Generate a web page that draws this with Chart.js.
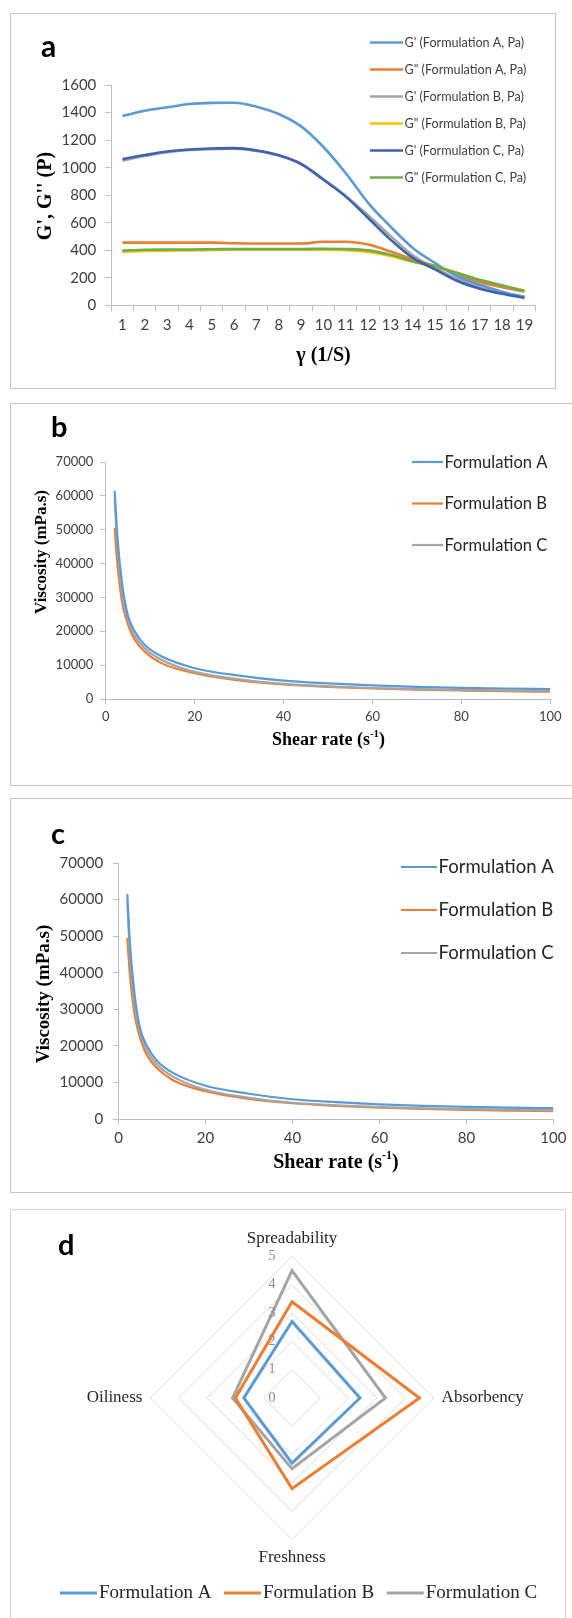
<!DOCTYPE html>
<html><head><meta charset="utf-8">
<script src="https://cdn.jsdelivr.net/npm/chart.js@4.4.1/dist/chart.umd.min.js"></script>
<style>
html,body{margin:0;padding:0;background:#fff;width:572px;height:1618px;overflow:hidden;position:relative;}
.frame{position:absolute;box-sizing:border-box;border:1.5px solid #c4c4c4;}
canvas{position:absolute;left:0;}
</style></head><body>
<div class="frame" style="left:10px;top:13px;width:546px;height:376px;"></div>
<div class="frame" style="left:10px;top:403px;width:600px;height:383px;"></div>
<div class="frame" style="left:10px;top:798px;width:600px;height:395px;"></div>
<div class="frame" style="left:10px;top:1209px;width:556px;height:440px;border-color:#d6d6d6"></div>
<canvas id="cA" width="572" height="375" style="top:13px;width:572px;height:375px"></canvas>
<canvas id="cB" width="572" height="382" style="top:403px;width:572px;height:382px"></canvas>
<canvas id="cC" width="572" height="394" style="top:798px;width:572px;height:394px"></canvas>
<canvas id="cD" width="572" height="409" style="top:1209px;width:572px;height:409px"></canvas>
<script>
// ---------- Panel a data ----------
const strainSteps = ['1','2','3','4','5','6','7','8','9','10','11','12','13','14','15','16','17','18','19'];
const gPrimeA  = [1375, 1413, 1438, 1462, 1470, 1471, 1443, 1390, 1300, 1150, 960, 745, 573, 418, 308, 212, 150, 100, 58];
const gDoubleA = [456, 456, 456, 456, 456, 452, 450, 450, 450, 463, 463, 442, 392, 334, 288, 225, 170, 133, 101];
const gPrimeB  = [1052, 1085, 1112, 1128, 1135, 1138, 1122, 1088, 1025, 918, 795, 655, 505, 365, 272, 192, 132, 95, 65];
const gDoubleB = [390, 395, 398, 400, 403, 405, 405, 405, 405, 405, 402, 388, 360, 318, 282, 235, 180, 140, 110];
const gPrimeC  = [1062, 1092, 1118, 1132, 1139, 1142, 1125, 1090, 1028, 912, 790, 635, 478, 345, 262, 178, 122, 85, 55];
const gDoubleC = [398, 405, 406, 406, 408, 410, 410, 410, 410, 412, 410, 400, 368, 320, 284, 236, 186, 146, 106];
const modulusLabels = ["G' (Formulation A, Pa)", 'G" (Formulation A, Pa)', "G' (Formulation B, Pa)", 'G" (Formulation B, Pa)', "G' (Formulation C, Pa)", 'G" (Formulation C, Pa)'];

// ---------- Panels b and c data ----------
const shearRate = [2, 2.5, 3, 3.5, 4, 5, 6.5, 8.75, 12.5, 20, 30, 40, 50, 60, 70, 80, 90, 100];
const viscA_b = [61500, 50000, 42000, 36000, 31000, 24500, 20000, 16000, 12600, 9100, 6900, 5400, 4600, 4000, 3600, 3300, 3100, 2950];
const viscB_b = [50500, 41500, 35000, 30000, 26500, 22000, 17500, 14000, 10600, 7600, 5500, 4300, 3600, 3100, 2750, 2500, 2300, 2150];
const viscC_b = [59000, 47000, 39000, 33000, 28500, 23300, 18700, 15000, 11600, 8000, 5800, 4450, 3750, 3250, 2900, 2700, 2550, 2450];
const viscA_c = [61500, 50000, 42000, 36000, 31000, 24500, 20000, 16000, 12600, 9100, 6900, 5400, 4600, 4000, 3600, 3300, 3100, 2950];
const viscB_c = [49500, 41000, 34800, 30000, 26500, 22000, 17500, 14000, 10600, 7600, 5500, 4300, 3600, 3100, 2750, 2500, 2300, 2150];
const viscC_c = [59500, 47200, 39000, 33000, 28500, 23300, 18700, 15000, 11600, 8000, 5800, 4450, 3750, 3250, 2900, 2700, 2550, 2450];
const formulationNames = ['Formulation A', 'Formulation B', 'Formulation C'];

// ---------- Panel d data ----------
const sensoryAttributes = ['Spreadability', 'Absorbency', 'Freshness', 'Oiliness'];
const sensoryA = [2.7, 2.4, 2.3, 1.7];
const sensoryB = [3.4, 4.5, 3.2, 2.0];
const sensoryC = [4.5, 3.3, 2.5, 2.1];

// ---------- colours ----------
const BLUE = '#5b9bd5', ORANGE = '#ed7d31', GRAY = '#a5a5a5', YELLOW = '#ffc000', NAVY = '#3f62b0', GREEN = '#70ad47';
const AXIS = '#bfbfbf';

// ---------- plugins ----------
const textPlugin = {
  id: 'texts',
  afterDraw(chart, args, opts) {
    const ctx = chart.ctx;
    (opts.items || []).forEach(it => {
      ctx.save();
      ctx.translate(it.x, it.y);
      if (it.rot) ctx.rotate(it.rot);
      ctx.fillStyle = it.color || '#000';
      ctx.textBaseline = it.baseline || 'middle';
      ctx.textAlign = 'left';
      const parts = it.parts || [{ t: it.text }];
      const widths = [];
      let total = 0;
      parts.forEach(p => { ctx.font = p.sup ? it.supFont : it.font; const w = ctx.measureText(p.t).width; widths.push(w); total += w; });
      let x = it.align === 'left' ? 0 : -total / 2;
      parts.forEach((p, i) => { ctx.font = p.sup ? it.supFont : it.font; ctx.fillText(p.t, x, p.sup ? -it.supRise : 0); x += widths[i]; });
      ctx.restore();
    });
  }
};
const lineLegend = {
  id: 'lineLegend',
  afterDraw(chart, args, o) {
    const ctx = chart.ctx;
    ctx.save();
    ctx.font = o.font;
    ctx.textBaseline = 'middle';
    ctx.textAlign = 'left';
    let x = o.x, y = o.y;
    chart.data.datasets.forEach(ds => {
      ctx.strokeStyle = ds.borderColor;
      ctx.lineWidth = o.lineWidth;
      ctx.beginPath(); ctx.moveTo(x, y); ctx.lineTo(x + o.len, y); ctx.stroke();
      ctx.fillStyle = o.color;
      ctx.fillText(ds.label, x + o.len + o.gap, y + 0.5);
      if (o.horizontal) x += o.len + o.gap + ctx.measureText(ds.label).width + o.itemGap;
      else y += o.step;
    });
    ctx.restore();
  }
};
const radarTicks = {
  id: 'radarTicks',
  afterDraw(chart, args, o) {
    const s = chart.scales.r, ctx = chart.ctx;
    ctx.save();
    ctx.font = o.font; ctx.fillStyle = o.color;
    ctx.textAlign = 'center'; ctx.textBaseline = 'middle';
    s.ticks.forEach(t => {
      ctx.fillText(t.label, s.xCenter + o.dx, s.yCenter - s.getDistanceFromCenterForValue(t.value));
    });
    ctx.restore();
  }
};

Chart.defaults.font.family = 'Lato';
const SERIF_B = '"Liberation Serif", serif';
const plain = v => String(v);

function xyPairs(arr) { return shearRate.map((x, i) => ({ x: x, y: arr[i] })); }

// ---------- Panel a ----------
const aSeries = [gPrimeA, gDoubleA, gPrimeB, gDoubleB, gPrimeC, gDoubleC];
const aColors = [BLUE, ORANGE, GRAY, YELLOW, NAVY, GREEN];
const aOrder = [1, 1, 2, 2, 0, 0];
new Chart(document.getElementById('cA'), {
  type: 'line',
  data: {
    labels: strainSteps,
    datasets: aSeries.map((d, i) => ({ label: modulusLabels[i], data: d, borderColor: aColors[i], backgroundColor: aColors[i], order: aOrder[i] }))
  },
  options: {
    responsive: false, animation: false,
    layout: { padding: { left: 0, right: 36.4, top: 72, bottom: 0 } },
    elements: { point: { radius: 0 }, line: { borderWidth: 2.6, cubicInterpolationMode: 'monotone' } },
    plugins: {
      legend: { display: false }, tooltip: { enabled: false },
      lineLegend: { x: 370, y: 29.5, len: 33, gap: 1.5, step: 27, font: '12.6px Lato', color: '#404040', lineWidth: 2.6 },
      texts: { items: [
        { text: 'a', x: 41, y: 44, baseline: 'alphabetic', align: 'left', font: 'bold 30px Lato' },
        { text: "G', G'' (P)", x: 45.6, y: 183, rot: -Math.PI / 2, font: 'bold 20px ' + SERIF_B },
        { text: 'γ (1/S)', x: 323.5, y: 343, font: 'bold 20px ' + SERIF_B }
      ] }
    },
    scales: {
      x: {
        offset: true,
        grid: { offset: true, drawOnChartArea: false, tickLength: 6, color: AXIS },
        border: { color: AXIS, width: 1 },
        ticks: { font: { size: 15 }, color: '#404040', maxRotation: 0, autoSkip: false, padding: 5 },
        afterFit: s => { s.height = 82.5; }
      },
      y: {
        min: 0, max: 1600,
        grid: { drawOnChartArea: false, tickLength: 6, color: AXIS },
        border: { color: AXIS, width: 1 },
        ticks: { stepSize: 200, font: { size: 15 }, color: '#404040', padding: 9, callback: plain },
        afterFit: s => { s.width = 111.3; }
      }
    }
  },
  plugins: [textPlugin, lineLegend]
});

// ---------- Panels b and c ----------
function viscChart(id, series, cfg) {
  const cols = [BLUE, ORANGE, GRAY];
  new Chart(document.getElementById(id), {
    type: 'line',
    data: { datasets: series.map((d, i) => ({ label: formulationNames[i], data: xyPairs(d), borderColor: cols[i], backgroundColor: cols[i], order: [0, 2, 1][i] })) },
    options: {
      responsive: false, animation: false, parsing: true,
      layout: { padding: { left: 0, right: cfg.padRight, top: cfg.padTop, bottom: 0 } },
      elements: { point: { radius: 0 }, line: { borderWidth: 2.2, cubicInterpolationMode: 'monotone' } },
      plugins: { legend: { display: false }, tooltip: { enabled: false }, lineLegend: cfg.legend, texts: { items: cfg.texts } },
      scales: {
        x: {
          type: 'linear', min: 0, max: 100,
          grid: { drawOnChartArea: false, tickLength: 5, color: AXIS },
          border: { color: AXIS, width: 1 },
          ticks: { stepSize: 20, font: { size: cfg.tick }, color: '#404040', maxRotation: 0, padding: cfg.xPad, callback: plain },
          afterFit: s => { s.height = cfg.xH; }
        },
        y: {
          min: 0, max: 70000,
          grid: { drawOnChartArea: false, tickLength: 5.5, color: AXIS },
          border: { color: AXIS, width: 1 },
          ticks: { stepSize: 10000, font: { size: cfg.tick }, color: '#404040', padding: cfg.yPad, callback: plain },
          afterFit: s => { s.width = cfg.yW; }
        }
      }
    },
    plugins: [textPlugin, lineLegend]
  });
}
viscChart('cB', [viscA_b, viscB_b, viscC_b], {
  padRight: 21.8, padTop: 59, xH: 86, yW: 105.8, tick: 13, xPad: 5, yPad: 7,
  legend: { x: 412, y: 59, len: 31, gap: 1.5, step: 41.5, font: '16.5px Lato', color: '#262626', lineWidth: 2.2 },
  texts: [
    { text: 'b', x: 51, y: 34, baseline: 'alphabetic', align: 'left', font: 'bold 29px Lato' },
    { text: 'Viscosity (mPa.s)', x: 42, y: 149, rot: -Math.PI / 2, font: 'bold 17px ' + SERIF_B },
    { parts: [{ t: 'Shear rate (s' }, { t: '-1', sup: true }, { t: ')' }], x: 328.5, y: 337, font: 'bold 18px ' + SERIF_B, supFont: 'bold 11px ' + SERIF_B, supRise: 6 }
  ]
});
viscChart('cC', [viscA_c, viscB_c, viscC_c], {
  padRight: 18.6, padTop: 65, xH: 73, yW: 118.6, tick: 15, xPad: 5, yPad: 10,
  legend: { x: 401, y: 69, len: 36, gap: 1.5, step: 43, font: '18.5px Lato', color: '#262626', lineWidth: 2.2 },
  texts: [
    { text: 'c', x: 51, y: 46, baseline: 'alphabetic', align: 'left', font: 'bold 29px Lato' },
    { text: 'Viscosity (mPa.s)', x: 43.8, y: 196, rot: -Math.PI / 2, font: 'bold 19px ' + SERIF_B },
    { parts: [{ t: 'Shear rate (s' }, { t: '-1', sup: true }, { t: ')' }], x: 336, y: 365, font: 'bold 20px ' + SERIF_B, supFont: 'bold 12px ' + SERIF_B, supRise: 7 }
  ]
});

// ---------- Panel d ----------
const dSeries = [sensoryA, sensoryB, sensoryC];
const dColors = [BLUE, ORANGE, GRAY];
new Chart(document.getElementById('cD'), {
  type: 'radar',
  data: {
    labels: sensoryAttributes,
    datasets: dSeries.map((d, i) => ({ label: formulationNames[i], data: d, borderColor: dColors[i], backgroundColor: 'transparent', fill: false, order: [1, 0, 2][i] }))
  },
  options: {
    responsive: false, animation: false,
    layout: { padding: { left: 30, right: 18, top: 19, bottom: 49 } },
    elements: { point: { radius: 0 }, line: { borderWidth: 3, tension: 0, borderJoinStyle: 'miter' } },
    plugins: {
      legend: { display: false }, tooltip: { enabled: false },
      lineLegend: { x: 60, y: 384, len: 37, gap: 2, itemGap: 12.5, horizontal: true, font: '19px ' + SERIF_B, color: '#262626', lineWidth: 3 },
      radarTicks: { font: '14px ' + SERIF_B, color: '#8a8a8a', dx: -20 },
      texts: { items: [ { text: 'd', x: 58, y: 46, baseline: 'alphabetic', align: 'left', font: 'bold 29px Lato' } ] }
    },
    scales: {
      r: {
        min: 0, max: 5,
        ticks: { stepSize: 1, display: false },
        grid: { color: '#dcdcdc', lineWidth: 1 },
        angleLines: { display: false },
        pointLabels: { font: { family: 'Liberation Serif', size: 17 }, color: '#262626', padding: 8 }
      }
    }
  },
  plugins: [textPlugin, lineLegend, radarTicks]
});
</script>
</body></html>
